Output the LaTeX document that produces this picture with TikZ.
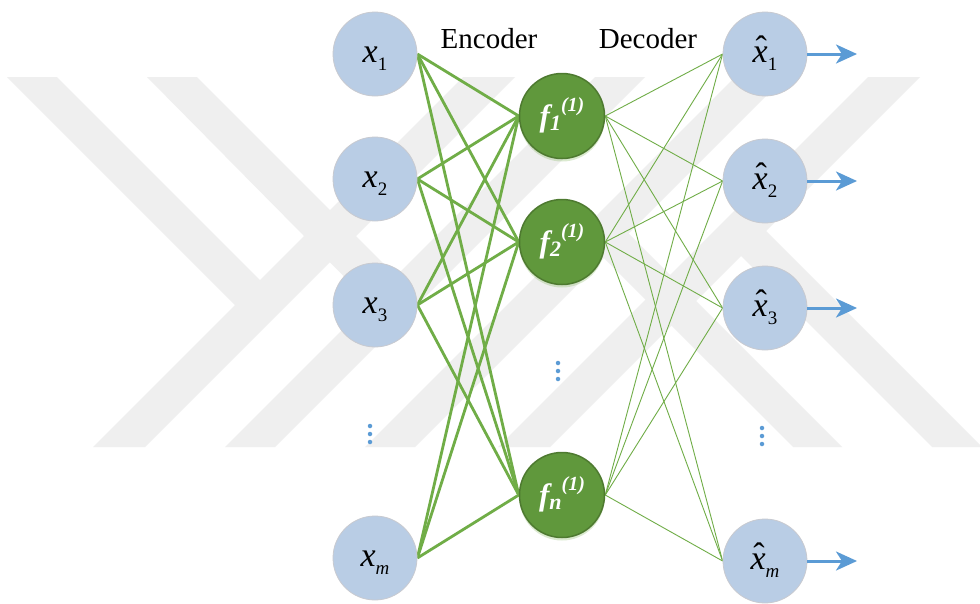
\documentclass[tikz,border=0pt]{standalone}
\usepackage{fontspec}
\setmainfont{Liberation Serif}
\usetikzlibrary{arrows.meta,shadows}
\definecolor{wm}{RGB}{239,239,239}
\definecolor{nodeblue}{RGB}{185,205,229}
\definecolor{nodeblueborder}{RGB}{200,202,208}
\definecolor{hidgreen}{RGB}{96,152,60}
\definecolor{hidborder}{RGB}{78,122,48}
\definecolor{edgegreen}{RGB}{112,173,71}
\definecolor{arrowblue}{RGB}{91,155,213}
\pgfdeclarelayer{bg}
\pgfdeclarelayer{edges}
\pgfsetlayers{bg,edges,main}
\newcommand{\xsub}[1]{{\fontsize{34}{34}\selectfont\itshape x}\raisebox{-8pt}{\fontsize{19}{19}\selectfont #1}}
\newcommand{\xhatsub}[1]{{\fontsize{34}{34}\selectfont\itshape\ooalign{x\cr\hidewidth\kern2pt\raisebox{2.5pt}{\upshape ˆ}\hidewidth\cr}}\raisebox{-8pt}{\fontsize{19}{19}\selectfont #1}}
\newcommand{\fsub}[1]{{\fontsize{31}{31}\selectfont\bfseries\itshape f}\raisebox{-4pt}{\fontsize{22}{22}\selectfont\bfseries\itshape #1}\raisebox{15pt}{\fontsize{20}{20}\selectfont\bfseries\itshape (1)}}
\begin{document}
\begin{tikzpicture}[x=1pt,y=-1pt,
  innode/.style={circle,inner sep=0pt,minimum size=84pt,fill=nodeblue,draw=nodeblueborder,line width=0.8pt,text height=16pt,text depth=0pt},
  hidnode/.style={circle,inner sep=0pt,minimum size=85pt,fill=hidgreen,draw=hidborder,line width=1.5pt,text=white,text height=21pt,text depth=0pt,
    drop shadow={shadow xshift=0pt,shadow yshift=-3pt,opacity=0.25,fill=edgegreen}},
  enc/.style={edgegreen,line width=2.8pt},
  dec/.style={edgegreen,line width=0.9pt},
  outarrow/.style={arrowblue,line width=3pt,-{Stealth[length=21pt,width=19pt,inset=6pt]}},
  dotmark/.style={circle,fill=arrowblue,inner sep=0pt,minimum size=4.5pt},
  headlabel/.style={anchor=base,font=\fontsize{29}{31}\selectfont},
  wmband/.style={fill=wm}]
\begin{pgfonlayer}{bg}
\fill[white] (0,0) rectangle (980,603);
\begin{scope}
\clip (0,77) rectangle (980,447);
\fill[wmband] (463,77) -- (515,77) -- (145,447) -- (93,447) -- cycle;
\fill[wmband] (595,77) -- (645,77) -- (275,447) -- (225,447) -- cycle;
\fill[wmband] (735,77) -- (785,77) -- (415,447) -- (365,447) -- cycle;
\fill[wmband] (868,77) -- (920,77) -- (550,447) -- (498,447) -- cycle;
\fill[wmband] (7,77) -- (57,77) -- (273,293) -- (248,318) -- cycle;
\fill[wmband] (147,77) -- (197,77) -- (408.5,288.5) -- (382,315) -- cycle;
\fill[wmband] (591.5,245.5) -- (616,221) -- (842,447) -- (793,447) -- cycle;
\fill[wmband] (728,243) -- (753,218) -- (982,447) -- (932,447) -- cycle;
\end{scope}
\end{pgfonlayer}

% input nodes
\node[innode] (x1) at (375,54) {\xsub{1}};
\node[innode] (x2) at (375,179) {\xsub{2}};
\node[innode] (x3) at (375,305) {\xsub{3}};
\node[innode] (xm) at (375,558) {\xsub{\itshape m}};
% hidden nodes
\node[hidnode] (f1) at (562,116) {\fsub{1}};
\node[hidnode] (f2) at (562,242) {\fsub{2}};
\node[hidnode] (fn) at (562,495) {\fsub{n}};
% output nodes
\node[innode] (y1) at (765,54) {\xhatsub{1}};
\node[innode] (y2) at (765,181) {\xhatsub{2}};
\node[innode] (y3) at (765,308) {\xhatsub{3}};
\node[innode] (ym) at (765,561) {\xhatsub{\itshape m}};

% headings
\node[headlabel] (enc) at (489,48) {Encoder};
\node[headlabel] (dec) at (648,48) {Decoder};

% ellipsis dots
\node[dotmark] (la) at (370,426) {};
\node[dotmark] (lb) at (370,434) {};
\node[dotmark] (lc) at (370,442) {};
\node[dotmark] (ma) at (558,363) {};
\node[dotmark] (mb) at (558,371) {};
\node[dotmark] (mc) at (558,379) {};
\node[dotmark] (ra) at (762,428) {};
\node[dotmark] (rb) at (762,436) {};
\node[dotmark] (rc) at (762,444) {};

% output arrows
\coordinate (o1) at (857,54);
\coordinate (o2) at (857,181);
\coordinate (o3) at (857,308);
\coordinate (om) at (857,561);
\draw[outarrow] (y1.east) -- (o1);
\draw[outarrow] (y2.east) -- (o2);
\draw[outarrow] (y3.east) -- (o3);
\draw[outarrow] (ym.east) -- (om);

\begin{pgfonlayer}{edges}
\foreach \a in {x1,x2,x3,xm}
  \foreach \b in {f1,f2,fn}
    \draw[enc] (\a.east) -- (\b.west);
\foreach \a in {f1,f2,fn}
  \foreach \b in {y1,y2,y3,ym}
    \draw[dec] (\a.east) -- (\b.west);
\end{pgfonlayer}
\end{tikzpicture}
\end{document}
